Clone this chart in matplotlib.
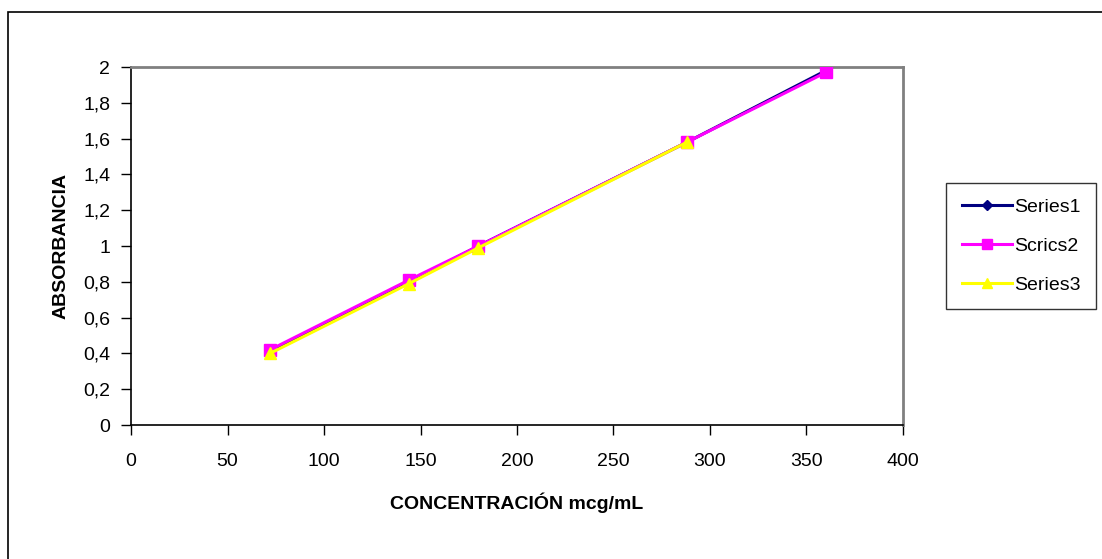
import matplotlib.pyplot as plt
from matplotlib.patches import Rectangle
from matplotlib.ticker import FuncFormatter

plt.rcParams['font.family'] = ['Liberation Sans', 'DejaVu Sans']

# data
conc1 = [72, 144, 180, 288, 360]
abs1 = [0.41, 0.80, 1.00, 1.58, 1.98]
conc2 = [72, 144, 180, 288, 360]
abs2 = [0.42, 0.81, 1.00, 1.58, 1.97]
conc3 = [72, 144, 180, 288]
abs3 = [0.40, 0.79, 0.99, 1.58]

fig = plt.figure(figsize=(11.02, 5.59), dpi=100)
ax = fig.add_axes([0.1189, 0.2397, 0.7005, 0.6403])

# outer chart frame
fig.patches.append(Rectangle((8 / 1102, -0.01), 1.1, 1 - 12 / 559 + 0.01,
                             transform=fig.transFigure, fill=False,
                             edgecolor='black', linewidth=1.2))

ax.plot(conc1, abs1, color='#000080', marker='D', markersize=6, linewidth=2.2,
        label='Series1', zorder=2)
ax.plot(conc2, abs2, color='#FF00FF', marker='s', markersize=9, linewidth=2.2,
        label='Scrics2', zorder=3)
ax.plot(conc3, abs3, color='#FFFF00', marker='^', markersize=9, linewidth=2.2,
        label='Series3', zorder=4)

ax.set_xlim(0, 400)
ax.set_ylim(0, 2)
ax.set_xticks(range(0, 401, 50))
ax.set_yticks([i * 0.2 for i in range(11)])
ax.yaxis.set_major_formatter(FuncFormatter(
    lambda v, p: ('%g' % round(v, 1)).replace('.', ',')))

for s in ['top', 'right']:
    ax.spines[s].set_color('#808080')
    ax.spines[s].set_linewidth(2)
for s in ['left', 'bottom']:
    ax.spines[s].set_color('black')
    ax.spines[s].set_linewidth(1.2)

ax.tick_params(axis='x', direction='out', length=7, width=1, pad=13,
               labelsize=14, colors='black')
ax.tick_params(axis='y', direction='out', length=7, width=1, pad=8,
               labelsize=14, colors='black')

ax.set_xlabel('CONCENTRACIÓN mcg/mL', fontsize=14, fontweight='bold', labelpad=16)
ax.set_ylabel('ABSORBANCIA', fontsize=14, fontweight='bold', labelpad=10)

leg = ax.legend(loc='center left', bbox_to_anchor=(1.056, 0.5), fontsize=14,
                frameon=True, fancybox=False, edgecolor='black',
                handlelength=2.6, borderpad=0.8, labelspacing=1.1,
                handletextpad=0.1, borderaxespad=0, markerscale=0.8)
leg.get_frame().set_linewidth(1)

fig.savefig('out.png', dpi=100)
